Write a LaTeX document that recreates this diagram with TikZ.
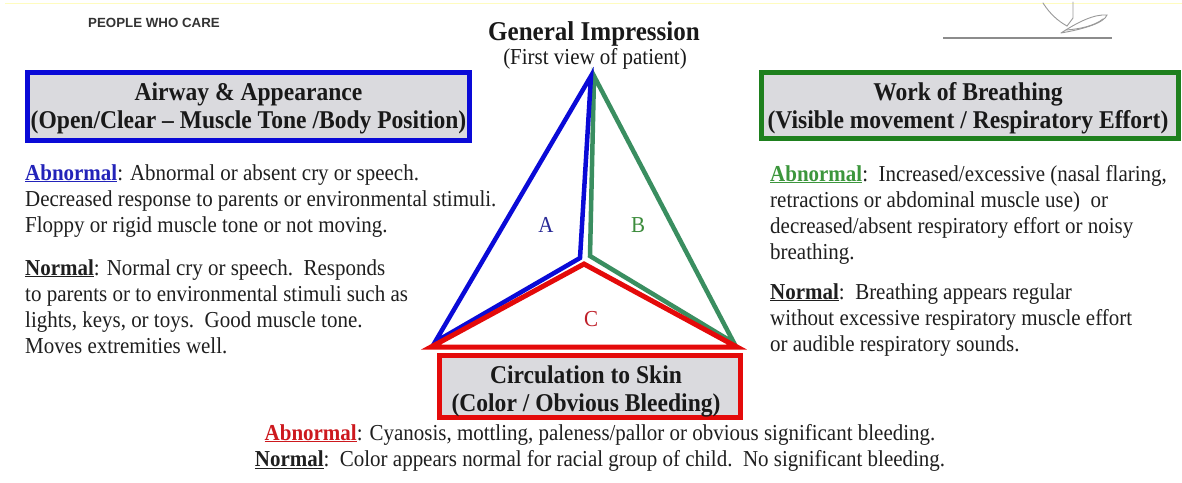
\documentclass[tikz,border=0pt]{standalone}
\usepackage{fontspec}
\setmainfont{Liberation Serif}[FakeStretch=0.92]
\newfontfamily\pwcfont{Liberation Sans}
\definecolor{boxgray}{RGB}{218,218,222}
\definecolor{boxblue}{RGB}{10,10,215}
\definecolor{boxgreen}{RGB}{30,128,30}
\definecolor{boxred}{RGB}{228,10,10}
\definecolor{trigreen}{RGB}{58,142,96}
\definecolor{abblue}{RGB}{35,35,185}
\definecolor{abgreen}{RGB}{60,150,60}
\definecolor{abred}{RGB}{205,25,30}
\definecolor{lblA}{RGB}{40,40,150}
\definecolor{lblB}{RGB}{60,140,60}
\definecolor{lblC}{RGB}{190,30,40}
\tikzset{
  hbox/.style={draw, line width=5pt, fill=boxgray, inner sep=0pt},
  headtxt/.style={font=\fontsize{25.6}{28.5}\selectfont\bfseries, inner sep=0pt, anchor=base, text=black!90},
  body/.style={font=\fontsize{22.8}{26.3}\selectfont, inner sep=0pt, anchor=base west, text=black!88},
  bodyc/.style={body, anchor=base},
  trilbl/.style={font=\fontsize{22.8}{26}\selectfont, inner sep=0pt},
  sig/.style={draw=black!40, line width=0.9pt, line cap=round},
}
\begin{document}
\begin{tikzpicture}[x=1pt,y=-1pt]
\useasboundingbox (0,0) rectangle (1182,482);
\fill[white] (0,0) rectangle (1182,482);
\draw[yellow!25, line width=0.8pt] (5,3) -- (1182,3);

% header items
\node[font=\pwcfont\fontsize{13.3}{15}\selectfont\bfseries, text=black!80, inner sep=0pt, anchor=base] (pwc) at (154,27) {PEOPLE WHO CARE};
\coordinate (sigL) at (943,38);
\coordinate (sigR) at (1112,38);
\draw[black!45, line width=1.8pt] (sigL) -- (sigR);
\draw[sig] (1043,3) .. controls (1050,14) and (1058,21) .. (1067,26);
\draw[sig] (1073,2) -- (1073,18) -- (1067,26);
\draw[sig] (1061,33) .. controls (1078,22) and (1094,14) .. (1107,15) .. controls (1104,23) and (1084,29) .. (1061,33);
\draw[sig] (1066,30) .. controls (1080,29) and (1094,26) .. (1103,19);

% title
\node[font=\fontsize{27.2}{30}\selectfont\bfseries, inner sep=0pt, anchor=base, text=black!90] (gi) at (594,40) {General Impression};
\node[font=\fontsize{22.8}{26}\selectfont, inner sep=0pt, anchor=base, text=black!90] (fv) at (595,64) {(First view of patient)};

% boxes
\node[hbox, draw=boxblue, minimum width=442pt, minimum height=68pt] (aw) at (248.5,106.5) {};
\node[headtxt] (awt) at (248.5,100) {\begin{tabular}[t]{@{}c@{}}Airway \& Appearance\\(Open/Clear -- Muscle Tone /Body Position)\end{tabular}};
\node[hbox, draw=boxgreen, minimum width=417pt, minimum height=66pt] (wb) at (970,105.5) {};
\node[headtxt] (wbt) at (968,100) {\begin{tabular}[t]{@{}c@{}}Work of Breathing\\(Visible movement / Respiratory Effort)\end{tabular}};
\node[hbox, draw=boxred, minimum width=301pt, minimum height=62pt] (cs) at (590,386.5) {};
\node[headtxt] (cst) at (586,383) {\begin{tabular}[t]{@{}c@{}}Circulation to Skin\\(Color / Obvious Bleeding)\end{tabular}};

% triangle
\coordinate (apB) at (591,76);
\coordinate (apG) at (594,76);
\coordinate (lvB) at (435,342);
\coordinate (cB) at (580,258);
\coordinate (cG) at (590,256);
\coordinate (rvG) at (734,343);
\coordinate (lvR) at (431,347);
\coordinate (cR) at (584,264);
\coordinate (rvR) at (737,347);
\draw[trigreen, line width=4.5pt, line join=miter] (apG) -- (cG) -- (rvG) -- cycle;
\draw[boxblue, line width=4.5pt, line join=miter] (apB) -- (lvB) -- (cB) -- cycle;
\draw[boxred, line width=5pt, line join=miter] (lvR) -- (cR) -- (rvR) -- cycle;
\node[trilbl, text=lblA] (la) at (546,225) {A};
\node[trilbl, text=lblB] (lb) at (638,225) {B};
\node[trilbl, text=lblC] (lc) at (591,319) {C};

% left text
\node[body] (awab) at (25,180) {\begin{tabular}[t]{@{}l@{}}\textcolor{abblue}{\underline{\textbf{Abnormal}}}: Abnormal or absent cry or speech.\\Decreased response to parents or environmental stimuli.\\Floppy or rigid muscle tone or not moving.\end{tabular}};
\node[body] (awno) at (25,275) {\begin{tabular}[t]{@{}l@{}}\underline{\textbf{Normal}}: Normal cry or speech.\ \ Responds\\to parents or to environmental stimuli such as\\lights, keys, or toys.\ \ Good muscle tone.\\Moves extremities well.\end{tabular}};

% right text
\node[body] (wbab) at (770,181) {\begin{tabular}[t]{@{}l@{}}\textcolor{abgreen}{\underline{\textbf{Abnormal}}}:\ \ Increased/excessive (nasal flaring,\\retractions or abdominal muscle use)\ \ or\\decreased/absent respiratory effort or noisy\\breathing.\end{tabular}};
\node[body] (wbno) at (770,299) {\begin{tabular}[t]{@{}l@{}}\underline{\textbf{Normal}}:\ \ Breathing appears regular\\without excessive respiratory muscle effort\\or audible respiratory sounds.\end{tabular}};

% bottom text
\node[bodyc] (csab) at (600,440) {\begin{tabular}[t]{@{}c@{}}\textcolor{abred}{\underline{\textbf{Abnormal}}}: Cyanosis, mottling, paleness/pallor or obvious significant bleeding.\\\underline{\textbf{Normal}}:\ \ Color appears normal for racial group of child.\ \ No significant bleeding.\end{tabular}};
\end{tikzpicture}
\end{document}
